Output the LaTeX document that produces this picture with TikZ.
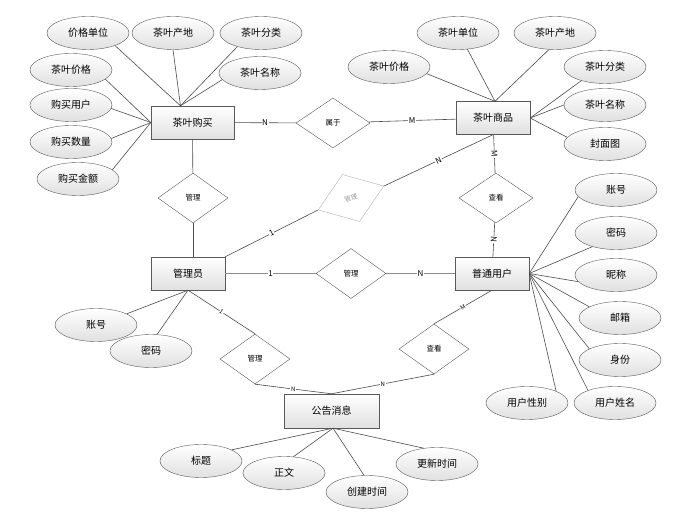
\documentclass[tikz,border=0pt]{standalone}
\usepackage{fontspec}
\setmainfont{Noto Sans CJK SC}
\usetikzlibrary{shapes.geometric}

\begin{document}
\begin{tikzpicture}[
    x = 1pt,
    y = -1pt,
    entity/.style={
        draw = black!65,
        rectangle,
        minimum width = 74pt,
        minimum height = 33pt,
        top color = white,
        bottom color = black!12,
        font = \fontsize{10}{12}\selectfont
    },
    attr/.style={
        draw = black!65,
        ellipse,
        minimum width = 82pt,
        minimum height = 33pt,
        inner sep = 0pt,
        top color = white,
        bottom color = black!12,
        font = \fontsize{10}{12}\selectfont
    },
    rel/.style={
        draw = black!65,
        diamond,
        fill = white,
        minimum width = 70pt,
        minimum height = 50pt,
        inner sep = 0pt,
        font = \fontsize{7.5}{9}\selectfont
    },
    card/.style={
        fill = white,
        inner sep = 0.6pt,
        font = \fontsize{8}{9}\selectfont
    },
    line/.style={
        draw = black!70,
        line width = 0.6pt
    }
    ]

\useasboundingbox[fill=white] (0,0) rectangle (681,518);

% entities
\node[entity, minimum width=83pt] (buy) at (192.5,122.5) {茶叶购买};
\node[entity] (tea) at (493,118) {茶叶商品};
\node[entity] (admin) at (188,273.5) {管理员};
\node[entity] (user) at (492,273.5) {普通用户};
\node[entity, minimum width=95pt, minimum height=34pt] (notice) at (331.5,411) {公告消息};

% relations
\node[rel, minimum width=74pt] (belong) at (333,123) {属于};
\node[rel] (manage1) at (193,198) {管理};
\node[rel, draw=black!30, text=black!40, rotate=20, font=\fontsize{6.5}{8}\selectfont] (manage2) at (351,198) {管理};
\node[rel] (manage3) at (351,273.5) {管理};
\node[rel, minimum width=74pt] (view1) at (496,198) {查看};
\node[rel] (manage4) at (255,359) {管理};
\node[rel] (view2) at (434,349) {查看};

% attributes
\foreach \n/\x/\y/\t in {b1/88/33/价格单位, b2/173/33/茶叶产地, b3/261/33/茶叶分类,
    b4/260/73/茶叶名称, b5/71/70/茶叶价格, b6/71/105/购买用户, b7/71/142/购买数量,
    b8/78/179/购买金额}
    \node[attr] (\n) at (\x,\y) {\t};
\foreach \n/\x/\y/\t in {t1/458/33/茶叶单位, t2/555/33/茶叶产地, t3/389/67/茶叶价格,
    t4/605/67/茶叶分类, t5/605/105/茶叶名称, t6/605/144/封面图}
    \node[attr] (\n) at (\x,\y) {\t};
\foreach \n/\x/\y/\t in {u1/616/190/账号, u2/616/233/密码, u3/616/275/昵称,
    u4/620/318/邮箱, u5/620/360/身份, u6/527/403/用户性别, u7/615/403/用户姓名}
    \node[attr] (\n) at (\x,\y) {\t};
\foreach \n/\x/\y/\t in {m1/96/325/账号, m2/151/351/密码}
    \node[attr] (\n) at (\x,\y) {\t};
\foreach \n/\x/\y/\t in {n1/201/461/标题, n2/284/473/正文, n3/367/492/创建时间,
    n4/437/464/更新时间}
    \node[attr] (\n) at (\x,\y) {\t};

\foreach \a in {b1.-25,b2.south,b3.-150,b4.-170}
    \draw[line] (\a) -- ([xshift=-12pt]buy.north);
\foreach \a in {b5.-15,b6.-5,b7.5,b8.15}
    \draw[line] (\a) -- (buy.west);
\foreach \a in {t1.-60,t2.-110,t3.-10}
    \draw[line] (\a) -- ([xshift=2pt]tea.north);
\foreach \a in {t4.-150,t5.west,t6.170}
    \draw[line] (\a) -- (tea.east);
\foreach \a in {u1.-170,u2.-150,u3.-170,u4.160,u5.160,u6.north east,u7.155}
    \draw[line] (\a) -- (user.east);
\foreach \a in {m1.20,m2.70}
    \draw[line] (\a) -- (admin.south);
\foreach \a in {n1.20,n2.60,n3.100,n4.130}
    \draw[line] (\a) -- ([xshift=1.5pt]notice.south);

% relationships
\draw[line] (buy) -- node[card] {N} (belong);
\draw[line] (belong) -- node[card] {M} (tea);
\draw[line] (buy) -- (manage1);
\draw[line] (manage1) -- (manage1 |- admin.north);
\draw[line] (admin.north east) -- node[card, sloped] {1} (manage2.west);
\draw[line] (manage2.east) -- node[card, sloped] {N} (tea.south);
\draw[line, draw=black!45, line width=1.2pt] (admin) -- node[card] {1} (manage3);
\draw[line, draw=black!45, line width=1.2pt] (manage3) -- node[card] {N} (user);
\draw[line] (tea) -- node[card, sloped] {M} (view1);
\draw[line] (view1) -- node[card, sloped] {N} (user);
\draw[line] (admin.south) -- node[card, sloped, font=\fontsize{6}{7}\selectfont] {1} (manage4.north);
\draw[line] (manage4.south) -- node[card, font=\fontsize{6}{7}\selectfont] {N} (notice.north);
\draw[line] (user.south) -- node[card, sloped, font=\fontsize{6}{7}\selectfont] {M} (view2.north);
\draw[line] (view2.south) -- node[card, font=\fontsize{6}{7}\selectfont] {N} (notice.north);
\end{tikzpicture}
\end{document}
